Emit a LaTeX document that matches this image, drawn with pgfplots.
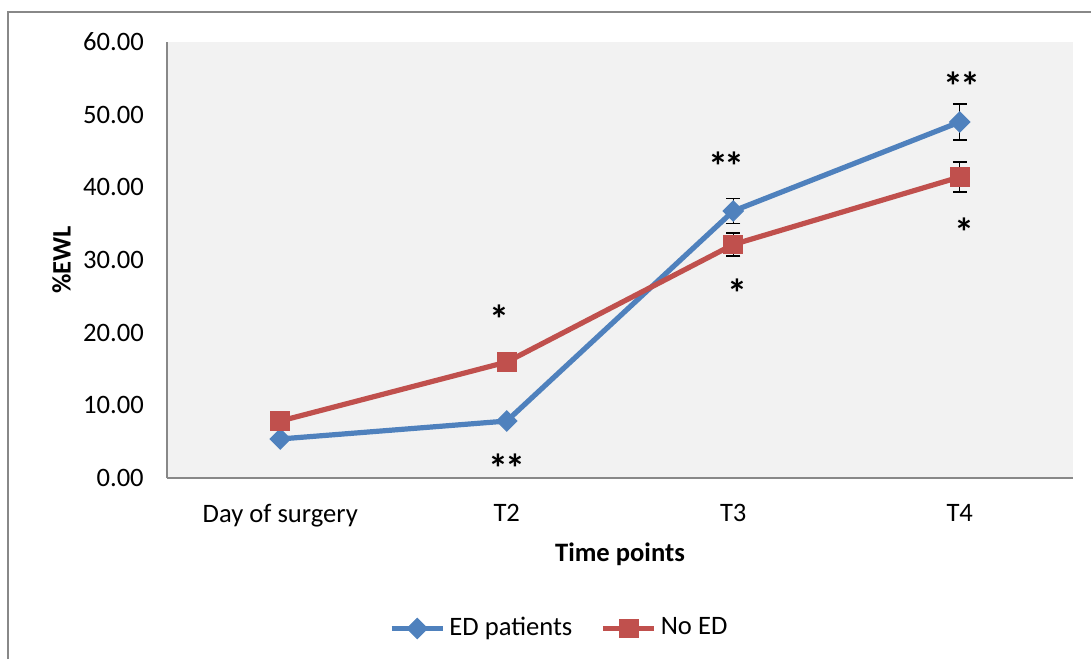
\documentclass[border=0pt]{standalone}
\usepackage{pgfplots}
\pgfplotsset{compat=1.18}
\usepackage{fontspec}
\setmainfont{Carlito}
\definecolor{edblue}{HTML}{4F81BD}
\definecolor{nored}{HTML}{C0504D}
\definecolor{plotbg}{HTML}{F2F2F2}
\definecolor{axgray}{HTML}{888888}
\newcommand{\twostar}{*\kern-1.5pt*}
\begin{document}
\fontsize{13.3pt}{16pt}\selectfont
\begin{tikzpicture}[x=0.5pt,y=0.5pt]
\useasboundingbox (0,0) rectangle (1091,659);
\draw[axgray, line width=0.6pt] (8,0) -- (8,647) -- (1091,647);
\coordinate (corner) at (167,181);
\begin{axis}[
  at={(corner)}, anchor=south west,
  scale only axis, width=453pt, height=218pt,
  xmin=-0.5, xmax=3.5, ymin=0, ymax=60,
  axis background/.style={fill=plotbg},
  axis x line*=bottom, axis y line*=left,
  axis line style={axgray, line width=0.9pt},
  major tick length=0pt,
  xtick={0,1,2,3},
  xticklabels={Day of surgery, T2, T3, T4},
  ytick={0,10,...,60},
  /pgf/number format/assume math mode=true,
  yticklabel={\pgfmathprintnumber[fixed,fixed zerofill,precision=2]{\tick}},
  yticklabel style={xshift=-7pt},
  xticklabel style={yshift=-8.5pt},
  tick label style={font=\fontsize{13.3pt}{16pt}\selectfont},
  xlabel={\textbf{Time points}},
  ylabel={\textbf{\%EWL}},
  xlabel style={yshift=1pt},
  ylabel style={yshift=-3pt},
  label style={font=\fontsize{13.3pt}{16pt}\selectfont},
  legend columns=2,
  legend style={at={(0.434,-0.345)}, anchor=center, draw=none, fill=none,
    font=\fontsize{13.3pt}{16pt}\selectfont,
    /tikz/every even column/.append style={column sep=12pt}},
  legend image code/.code={\draw[mark repeat=2,mark phase=2,#1] plot coordinates {(0cm,0cm) (0.45cm,0cm) (0.9cm,0cm)};},
  clip=false,
]
\addplot[edblue, line width=2.6pt, mark=square*, mark size=3.6pt,
  mark options={rotate=45, solid, line width=0.5pt},
  error bars/.cd, y dir=both, y explicit,
  error bar style={black, line width=0.7pt},
  error mark options={black, rotate=90, mark size=3.5pt, line width=0.7pt}]
  coordinates {
  (0,5.37) (1,7.84) (2,36.74) +- (0,1.72) (3,48.99) +- (0,2.48)};
\addlegendentry{ED patients}
\addplot[nored, line width=2.6pt, mark=square*, mark size=4.7pt,
  mark options={solid, line width=0.5pt},
  error bars/.cd, y dir=both, y explicit,
  error bar style={black, line width=0.7pt},
  error mark options={black, rotate=90, mark size=3.5pt, line width=0.7pt}]
  coordinates {
  (0,7.84) (1,15.96) (2,32.13) +- (0,1.58) (3,41.42) +- (0,2.06)};
\addlegendentry{No ED}
% significance markers
\begin{scope}[every node/.style={font=\fontsize{20pt}{22pt}\selectfont\bfseries}]
\node at (axis cs:0.967,21.8) {*};
\node at (axis cs:1.0,1.4) {\twostar};
\node at (axis cs:1.97,42.9) {\twostar};
\node at (axis cs:2.02,25.5) {*};
\node at (axis cs:3.01,53.9) {\twostar};
\node at (axis cs:3.02,33.8) {*};
\end{scope}
\end{axis}
\end{tikzpicture}
\end{document}
